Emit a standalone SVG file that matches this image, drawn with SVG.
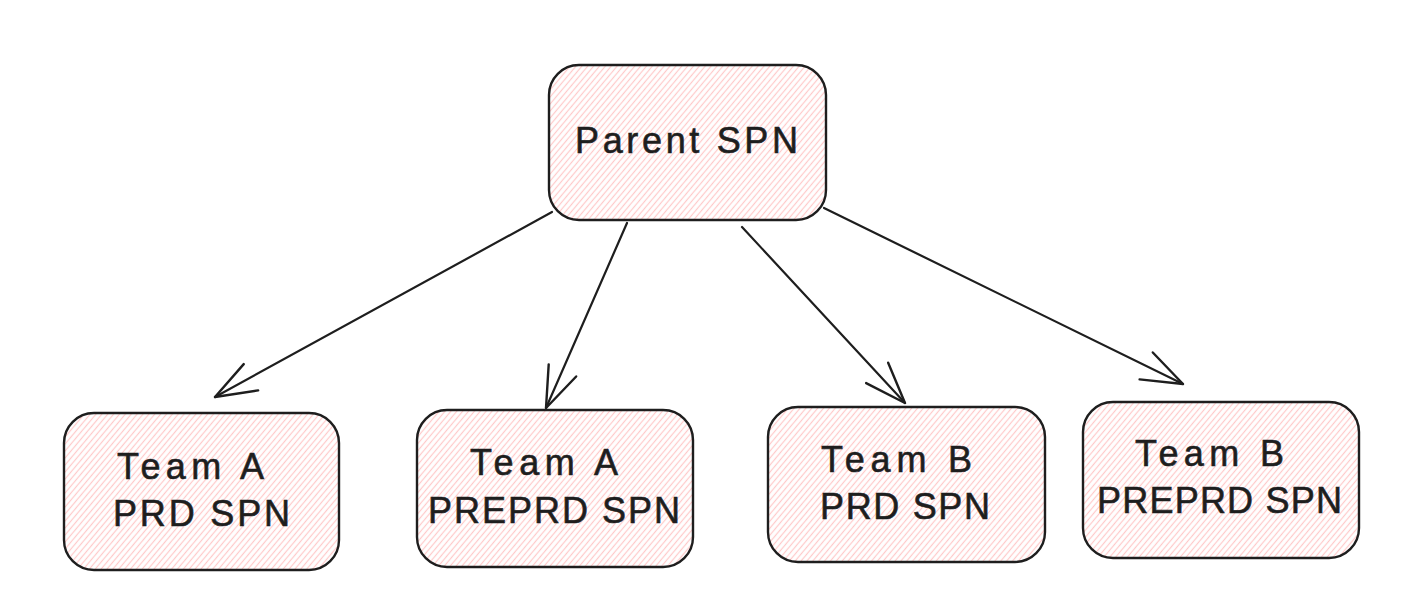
<svg xmlns="http://www.w3.org/2000/svg" width="1416" height="598" viewBox="0 0 1416 598">
<style>
.box{fill:url(#hatch);stroke:#1e1e1e;stroke-width:2.4}
.lbl{font-family:"Liberation Sans",Arial,sans-serif;font-size:36px;fill:#1e1e1e;stroke:#1e1e1e;stroke-width:0.6}
.edge{fill:none;stroke:#1e1e1e;stroke-width:2.2;stroke-linecap:round;marker-end:url(#arr)}
</style>
<defs>
<pattern id="hatch" patternUnits="userSpaceOnUse" width="4.5" height="4.5" patternTransform="rotate(-50)">
<rect width="4.5" height="4.5" fill="#ffffff"/>
<line x1="0" y1="2.25" x2="4.5" y2="2.25" stroke="#ffc9c9" stroke-width="1.2"/>
</pattern>
<marker id="arr" markerUnits="userSpaceOnUse" markerWidth="60" markerHeight="40" refX="0" refY="0" orient="auto" overflow="visible">
<path d="M-41 -15 L0 0 L-41 15" fill="none" stroke="#1e1e1e" stroke-width="2.4" stroke-linecap="round" stroke-linejoin="round"/>
</marker>
</defs>
<rect width="1416" height="598" fill="#ffffff"/>
<g id="connectors">
<path class="edge" d="M552 212 L215 397"/>
<path class="edge" d="M627 223 L546 408"/>
<path class="edge" d="M742 227 L905 403"/>
<path class="edge" d="M824 208 L1183 384"/>
</g>
<g id="parent">
<rect class="box" x="549" y="65" width="277" height="155" rx="30"/>
<text class="lbl" x="575" y="153" textLength="223" lengthAdjust="spacing">Parent SPN</text>
</g>
<g id="teamA-prd">
<rect class="box" x="64" y="413" width="275" height="157" rx="30"/>
<text class="lbl" x="117" y="479" textLength="147" lengthAdjust="spacing">Team A</text>
<text class="lbl" x="113" y="526" textLength="177" lengthAdjust="spacing">PRD SPN</text>
</g>
<g id="teamA-preprd">
<rect class="box" x="417" y="410" width="276" height="157" rx="30"/>
<text class="lbl" x="470" y="475" textLength="148" lengthAdjust="spacing">Team A</text>
<text class="lbl" x="428" y="523" textLength="252" lengthAdjust="spacing">PREPRD SPN</text>
</g>
<g id="teamB-prd">
<rect class="box" x="768" y="407" width="277" height="155" rx="30"/>
<text class="lbl" x="821" y="472" textLength="151" lengthAdjust="spacing">Team B</text>
<text class="lbl" x="820" y="519" textLength="170" lengthAdjust="spacing">PRD SPN</text>
</g>
<g id="teamB-preprd">
<rect class="box" x="1083" y="402" width="276" height="156" rx="30"/>
<text class="lbl" x="1135" y="466" textLength="149" lengthAdjust="spacing">Team B</text>
<text class="lbl" x="1097" y="513" textLength="245" lengthAdjust="spacing">PREPRD SPN</text>
</g>
</svg>
